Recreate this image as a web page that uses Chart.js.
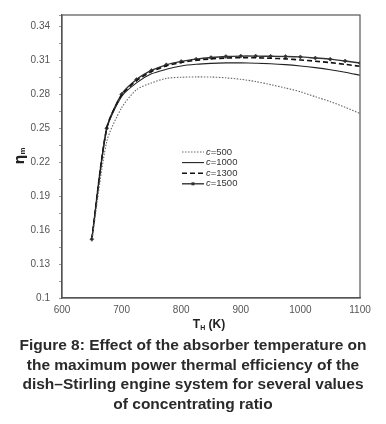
<!DOCTYPE html>
<html><head><meta charset="utf-8">
<script src="https://cdn.jsdelivr.net/npm/chart.js@4.4.1/dist/chart.umd.min.js"></script>
<style>
html,body{margin:0;padding:0;background:#fff;}
#wrap{position:relative;width:386px;height:424px;}
canvas{position:absolute;left:0;top:0;}
#cap{position:absolute;left:0;top:335px;width:386px;text-align:center;font:bold 15.5px "Liberation Sans",Arial,sans-serif;line-height:19.5px;color:#2a2a2a;white-space:nowrap;}
</style></head>
<body>
<div id="wrap"><canvas id="c" width="386" height="424"></canvas>
<div id="cap">Figure 8: Effect of the absorber temperature on<br>the maximum power thermal efficiency of the<br>dish–Stirling engine system for several values<br>of concentrating ratio</div></div>
<script>
const temps = [650,675,700,725,750,775,800,825,850,875,900,925,950,975,1000,1025,1050,1075,1100];
const c500  = [0.150,0.238,0.268,0.284,0.290,0.294,0.295,0.2953,0.2952,0.2945,0.2932,0.2912,0.2885,0.2855,0.2822,0.2778,0.2735,0.2685,0.263];
const c1000 = [0.152,0.249,0.278,0.290,0.298,0.302,0.305,0.3065,0.3073,0.3077,0.3077,0.3074,0.307,0.3062,0.305,0.3035,0.3017,0.2995,0.2968];
const c1300 = [0.152,0.250,0.279,0.292,0.300,0.305,0.308,0.310,0.3112,0.312,0.3123,0.3122,0.3118,0.3112,0.3103,0.3092,0.308,0.3064,0.3047];
const c1500 = [0.152,0.250,0.280,0.293,0.301,0.306,0.309,0.311,0.3124,0.3133,0.3137,0.3137,0.3135,0.3134,0.313,0.312,0.311,0.3094,0.3076];
const seriesLabels = ['c=500','c=1000','c=1300','c=1500'];
const yTickLabels = ['0.1','0.13','0.16','0.19','0.22','0.25','0.28','0.31','0.34'];
const xTickLabels = ['600','700','800','900','1000','1100'];

const pts = arr => temps.map((t,i)=>({x:t,y:arr[i]}));
const styles = [
  {borderColor:'#666',borderWidth:1.1,borderDash:[1.5,1.5],pointRadius:0},
  {borderColor:'#222',borderWidth:1.1,borderDash:[],pointRadius:0},
  {borderColor:'#111',borderWidth:1.6,borderDash:[5,3],pointRadius:0},
  {borderColor:'#333',borderWidth:1.4,borderDash:[],pointRadius:2,pointStyle:'rectRot',pointBackgroundColor:'#333',pointBorderColor:'#333',pointBorderWidth:0.5}
];
const datasets = [c500,c1000,c1300,c1500].map((d,i)=>Object.assign({label:seriesLabels[i],data:pts(d),tension:0.25,fill:false},styles[i]));

const deco = {
  id:'deco',
  afterDraw(ch){
    const ctx=ch.ctx, a=ch.chartArea;
    ctx.save();
    ctx.strokeStyle='#555'; ctx.lineWidth=1.2;
    ctx.strokeRect(a.left,a.top,a.right-a.left,a.bottom-a.top);
    ctx.fillStyle='#222';
    const tx=(a.left+a.right)/2-2, ty=a.bottom+27;
    ctx.font='bold 12px "Liberation Sans",Arial,sans-serif';
    const w1=ctx.measureText('T').width;
    const rest=' (K)';
    const wr=ctx.measureText(rest).width;
    ctx.font='bold 7px "Liberation Sans",Arial,sans-serif';
    const ws=ctx.measureText('H').width;
    let x0=tx-(w1+ws+wr)/2;
    ctx.textBaseline='middle';ctx.textAlign='left';
    ctx.font='bold 12px "Liberation Sans",Arial,sans-serif';
    ctx.fillText('T',x0,ty);
    ctx.font='bold 7px "Liberation Sans",Arial,sans-serif';
    ctx.fillText('H',x0+w1,ty+3);
    ctx.font='bold 12px "Liberation Sans",Arial,sans-serif';
    ctx.fillText(rest,x0+w1+ws,ty);
    ctx.translate(20,156); ctx.rotate(-Math.PI/2);
    ctx.font='bold 14px "DejaVu Sans",sans-serif';
    const we=ctx.measureText('η').width;
    ctx.font='bold 8px "Liberation Sans",Arial,sans-serif';
    const wm=ctx.measureText('m').width;
    let y0=-(we+wm)/2;
    ctx.font='bold 14px "DejaVu Sans",sans-serif';
    ctx.fillText('η',y0,0);
    ctx.font='bold 8px "Liberation Sans",Arial,sans-serif';
    ctx.fillText('m',y0+we,3);
    ctx.restore();
    ctx.save();
    const lx0=182, lx1=204;
    ch.data.datasets.forEach((ds,i)=>{
      const yy=152+i*10.6;
      ctx.strokeStyle=ds.borderColor; ctx.lineWidth=ds.borderWidth; ctx.setLineDash(ds.borderDash||[]);
      ctx.beginPath(); ctx.moveTo(lx0,yy); ctx.lineTo(lx1,yy); ctx.stroke();
      ctx.setLineDash([]);
      if(ds.pointRadius){ctx.fillStyle=ds.pointBackgroundColor;ctx.fillRect((lx0+lx1)/2-1.5,yy-1.5,3,3);}
      ctx.fillStyle='#333'; ctx.textBaseline='middle'; ctx.textAlign='left';
      ctx.font='italic 9.5px "Liberation Sans",Arial,sans-serif';
      ctx.fillText('c',lx1+2,yy);
      const wc=ctx.measureText('c').width;
      ctx.font='9.5px "Liberation Sans",Arial,sans-serif';
      ctx.fillText(ds.label.slice(1),lx1+2+wc,yy);
    });
    ctx.restore();
  }
};

new Chart(document.getElementById('c'),{
  type:'line',
  data:{datasets},
  options:{
    responsive:false,animation:false,
    layout:{padding:{left:0,top:15,right:26,bottom:106}},
    plugins:{legend:{display:false},tooltip:{enabled:false}},
    scales:{
      x:{type:'linear',min:600,max:1100,
        afterFit(s){s.height=20;},
        afterBuildTicks(s){s.ticks=xTickLabels.map(v=>({value:+v}));},
        grid:{display:false,drawOnChartArea:false,drawTicks:true,tickLength:3,color:'#777'},
        border:{display:true,color:'#555',width:1.2},
        ticks:{padding:3,maxRotation:0,color:'#555',font:{family:'"Liberation Sans",Arial,sans-serif',size:10},callback:v=>String(v)}
      },
      y:{type:'linear',min:0.1,max:0.35,
        afterFit(s){s.width=62;},
        afterBuildTicks(s){
          const t=[];
          yTickLabels.forEach((v,i)=>{t.push({value:+v});if(i<yTickLabels.length-1)t.push({value:+v+0.015});});
          t.push({value:0.35});
          s.ticks=t;
        },
        grid:{display:true,drawOnChartArea:false,drawTicks:true,tickLength:3,color:'#999'},
        border:{display:true,color:'#555',width:1.2},
        ticks:{padding:9,color:'#555',font:{family:'"Liberation Sans",Arial,sans-serif',size:10},
          callback:v=>{const s=yTickLabels.find(l=>Math.abs(+l-v)<1e-6);return s===undefined?'':s;}}
      }
    }
  },
  plugins:[deco]
});
</script>
</body></html>
